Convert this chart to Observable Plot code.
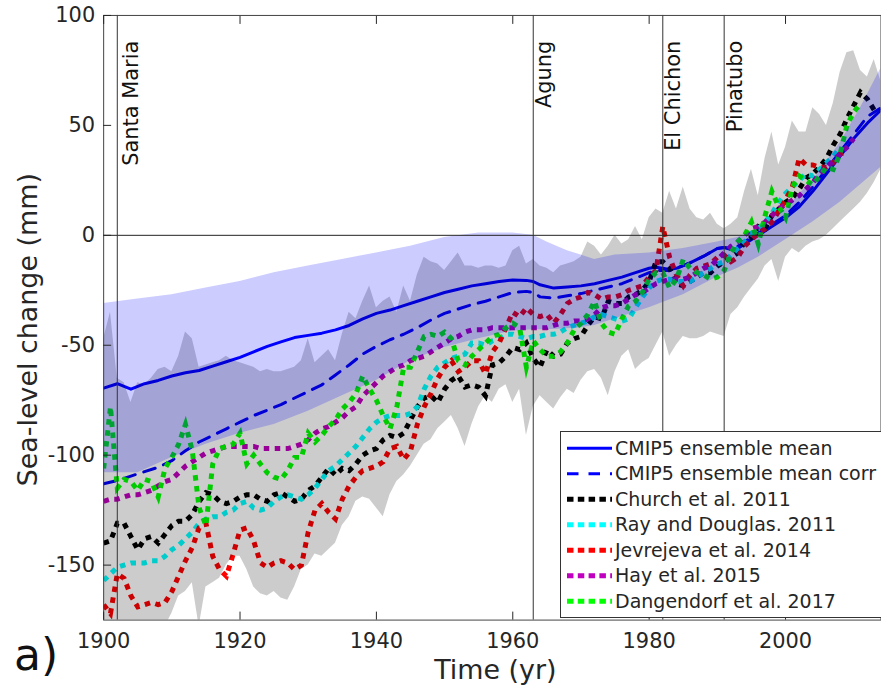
<!DOCTYPE html>
<html><head><meta charset="utf-8">
<script src="https://cdn.jsdelivr.net/npm/d3@7"></script>
<script src="https://cdn.jsdelivr.net/npm/@observablehq/plot@0.6"></script>
<style>
html,body{margin:0;padding:0;overflow:hidden;background:#fff;width:881px;height:688px}
#wrap{position:relative;width:881px;height:688px;overflow:hidden}
#chart{position:absolute;left:0;top:0}
#legend{position:absolute;left:560px;top:431px;overflow:visible}
#panel{position:absolute;left:14px;top:633px;font-family:"DejaVu Sans";font-size:44px;line-height:44px;color:#111}
</style></head>
<body><div id="wrap"><div id="chart"></div><svg id="legend" width="340" height="188"></svg><div id="panel">a)</div></div>
<script>
// ---------------- data ----------------
const xTicks = [1900, 1920, 1940, 1960, 1980, 2000];
const yTicks = [-150, -100, -50, 0, 50, 100];

const volcanoNames = ["Santa Maria", "Agung", "El Chichon", "Pinatubo"];
const volcanoYears = [1902, 1963, 1982, 1991];

// CMIP5 ensemble mean and corrected mean
const modelYears = [1900,1902,1904,1906,1908,1910,1912,1914,1916,1918,1920,1922,1924,1926,1928,1930,1932,1934,1936,1938,1940,1942,1944,1946,1948,1950,1952,1954,1956,1958,1960,1962,1963,1964,1966,1968,1970,1972,1974,1976,1978,1980,1981,1982,1983,1984,1986,1988,1990,1991,1992,1993,1994,1996,1998,2000,2002,2004,2006,2008,2010,2012,2014];
const cmipMean = [-69.5,-67.5,-70,-67.5,-66,-64,-62.5,-61.5,-59.5,-57.5,-55.5,-53,-50.5,-48.5,-46.5,-45.5,-44.5,-43,-41,-38,-35.5,-34,-32,-30,-28,-26,-24.5,-23,-22,-21,-20.3,-20.5,-21,-22.5,-24,-23.5,-23,-22,-20.5,-19,-17,-15,-14.5,-15,-15.5,-15,-12.5,-9.5,-6,-5.5,-6.5,-6,-4,0,4,8,13,20,28,36,44,51,57];
const cmipCorr = [-113,-111.5,-109.5,-107.5,-105.5,-102.5,-98,-94,-91,-88,-85,-82,-79.5,-77,-74,-71,-68,-63.5,-59,-54,-50.5,-47.5,-45,-42,-38.5,-35.5,-33.5,-31.5,-30,-28,-26,-25.5,-26,-28,-28.5,-27.5,-26.5,-25,-23.5,-22,-19.5,-17,-16,-16,-16,-15,-12.5,-9.5,-6,-5.5,-6,-5,-3,1,5,9,15,22,30,38,46,54,58];

// CMIP5 spread band
const bandYears = [1900,1905,1910,1915,1920,1925,1930,1935,1940,1945,1950,1955,1960,1963,1965,1968,1970,1972,1975,1980,1985,1990,1993,1996,2000,2004,2008,2011,2014];
const bandHigh = [-31,-29,-27,-24,-21,-17,-14,-11,-8,-5,-1,1,1,0,-3,-7,-9,-11,-9,-8,-6,-3,-1,3,12,25,42,58,76];
const bandLow  = [-108,-108,-101,-95,-90,-86,-80,-73,-66,-57,-51,-47,-43.5,-43,-43,-42.5,-42,-41,-38,-33,-27,-19,-15,-10,-2,6,15,23,31];

// Observational spread (annual, from 1900)
const obsStart = 1900;
const obsHigh = [-47,-35,-65,-67,-76,-67,-68,-65,-61,-60,
 -62,-55,-44,-47,-60,-59,-58,-57,-55,-57,
 -58,-59,-60,-62,-61,-62,-62,-61,-60,-57,
 -47,-58,-55,-52,-57,-45,-35,-38,-30,-23,
 -33,-30,-28,-35,-23,-30,-18,-10,-12,-13,
 -16,-12,-8,-14,-14,-15,-14,-14,-15,-14,
 -7,-5,-13,-11,-14,-15,-17,-14,-13,-12,
 -10,-3,-5,-9,-5,0,-4,-2,4,-2,
 8,12,10,20,12,22,12,8,7,10,
 5,3,5,8,20,30,18,35,47,32,
 40,52,47,47,58,55,50,60,74,83,
 84,75,72,80,70];
const obsLow = [-180,-180,-180,-180,-180,-180,-180,-180,-180,-178,
 -172,-164,-162,-158,-178,-160,-158,-156,-150,-146,
 -146,-152,-160,-163,-164,-162,-165,-166,-160,-152,
 -150,-145,-146,-143,-140,-132,-128,-121,-119,-120,
 -124,-128,-118,-112,-109,-105,-100,-95,-93,-88,
 -85,-82,-88,-96,-86,-78,-73,-76,-70,-68,
 -76,-70,-91,-78,-73,-76,-79,-74,-70,-72,
 -66,-62,-61,-65,-73,-62,-55,-52,-61,-58,
 -56,-50,-44,-55,-50,-46,-47,-47,-46,-44,
 -45,-46,-36,-33,-28,-24,-20,-14,-11,-21,
 -10,-6,-8,-5,-3,-2,0,3,6,9,
 12,15,19,24,30];

// Reconstructions (annual, from 1900)
const church2011 = [-140,-139,-131,-131,-137,-143,-138,-137,-140,-136,
 -132,-130,-130,-127,-121,-117,-118,-121,-122,-121,
 -119,-118,-118,-120,-121,-118,-117,-119,-121,-120,
 -116,-114,-110,-106,-109,-106,-107,-104,-100,-98,
 -97,-93,-91,-92,-90,-84,-78,-74,-73,-76,
 -70,-66,-64,-69,-68,-69,-73,-59,-58,-55,
 -51,-52,-49,-56,-60,-52,-55,-54,-49,-47,
 -46,-41,-37,-38,-30,-31,-31,-28,-27,-25,
 -21,-12,-12,-15,-22,-23,-21,-19,-17,-17,
 -14,-12,-10,-8,-3,-1,4,3,9,12,
 15,17,21,26,28,31,35,41,46,53,
 59,65,62,57];
const ray2011 = [-157,-154,-151,-150,-149,-149,-149,-148,-148,-146,
 -143,-141,-138,-135,-131,-129,-128,-128,-126,-125,
 -122,-121,-124,-125,-124,-121,-119,-118,-119,-120,
 -118,-115,-111,-107,-105,-102,-99,-96,-92,-88,
 -85,-83,-82,-82,-82,-81,-78,-70,-64,-60,
 -58,-56,-55,-54,-49,-49,-50,-48,-47,-45,
 -45,-46,-47,-46,-46,-45,-45,-44,-42,-41,
 -40,-39,-37,-36,-37,-38,-39,-38,-33,-28,
 -24,-21,-20,-20,-21,-21,-21,-19,-17,-15,
 -13,-12,-9,-6,-3,1,3,6,10,15,
 19,22,25,28,27,30,33,36,40];
const jevrejeva2014 = [-168,-172,-154,-156,-164,-169,-168,-167,-168,-167,
 -162,-155,-148,-142,-133,-131,-146,-152,-155,-145,
 -134,-133,-139,-149,-151,-149,-148,-149,-152,-150,
 -135,-125,-122,-126,-129,-120,-114,-110,-107,-106,
 -105,-103,-97,-96,-102,-98,-86,-78,-72,-65,
 -60,-57,-62,-60,-57,-57,-63,-53,-49,-42,
 -35,-37,-33,-36,-37,-36,-40,-36,-31,-29,
 -28,-26,-27,-29,-28,-28,-27,-25,-24,-23,
 -19,-16,4,-10,-18,-23,-18,-15,-14,-13,
 -10,-9,-12,-10,-5,-2,1,3,6,11,
 16,22,35,32,32,31,31,33,37,38];
const hay2015 = [-121,-120,-120,-119,-118,-118,-117,-116,-114,-112,
 -111,-108,-105,-103,-101,-99,-98,-97,-96,-96,
 -96,-96,-96,-97,-97,-97,-97,-97,-96,-95,
 -93,-90,-88,-87,-85,-83,-80,-78,-73,-70,
 -67,-64,-62,-60,-59,-57,-56,-55,-53,-51,
 -49,-47,-46,-44,-43,-43,-43,-42,-42,-42,
 -42,-42,-42,-42,-42,-42,-41,-40,-40,-39,
 -39,-38,-36,-33,-32,-32,-31,-29,-27,-26,
 -24,-22,-21,-20,-20,-20,-19,-17,-15,-14,
 -11,-8,-5,-3,0,3,4,6,9,12,
 14,16,18,21,24,28,31,34,37,40,44];
const dangendorf2017 = [-106,-78,-115,-111,-112,-116,-111,-112,-119,-106,
 -101,-95,-86,-98,-124,-132,-104,-97,-96,-95,
 -90,-104,-100,-104,-108,-110,-111,-107,-101,-101,
 -90,-94,-91,-87,-84,-79,-76,-72,-64,-70,
 -75,-82,-88,-78,-60,-60,-53,-46,-45,-46,
 -44,-47,-57,-59,-55,-52,-49,-46,-45,-42,
 -40,-42,-60,-48,-52,-55,-55,-53,-49,-43,
 -40,-36,-30,-40,-44,-45,-38,-32,-30,-26,
 -20,-17,-17,-24,-20,-11,-15,-17,-18,-20,
 -19,-16,-8,-3,0,6,-4,9,20,13,
 8,22,27,25,23,27,31,30,37,50,
 56,60];

const seriesNames = ["CMIP5 ensemble mean","CMIP5 ensemble mean corr","Church et al. 2011","Ray and Douglas. 2011","Jevrejeva et al. 2014","Hay et al. 2015","Dangendorf et al. 2017"];
const seriesColors = ["#0000ff","#0000ff","#000000","#00ffff","#ff0000","#bf00bf","#00ff00"];
const obsSeries = [church2011, ray2011, jevrejeva2014, hay2015, dangendorf2017];

// ---------------- tables ----------------
const model = modelYears.map((year, i) => ({year, mean: cmipMean[i], corr: cmipCorr[i]}));
const band = bandYears.map((year, i) => ({year, lo: bandLow[i], hi: bandHigh[i]}));
const spread = obsHigh.map((hi, i) => ({year: obsStart + i, hi, lo: obsLow[i]}));
const obsTables = obsSeries.map(arr => arr.map((value, i) => ({year: obsStart + i, value})));
const volcanoes = volcanoNames.map((name, i) => ({name, year: volcanoYears[i]}));

const dotted = {strokeWidth: 5, strokeDasharray: "5.5,5.5", strokeLinecap: "butt", strokeLinejoin: "miter", strokeMiterlimit: 8, clip: true};

const chart = Plot.plot({
  width: 884, height: 688,
  marginLeft: 103.5, marginRight: 0.5, marginTop: 15, marginBottom: 66.3,
  x: {domain: [1900, 2014]},
  y: {domain: [-175, 100]},
  style: {fontFamily: "DejaVu Sans", color: "#262626", background: "transparent"},
  marks: [
    Plot.line(model, {x: "year", y: "mean", stroke: seriesColors[0], strokeWidth: 3, clip: true}),
    Plot.line(model, {x: "year", y: "corr", stroke: seriesColors[1], strokeWidth: 3, strokeDasharray: "12,9", clip: true}),
    ...obsTables.map((t, k) => Plot.line(t, {x: "year", y: "value", stroke: seriesColors[k + 2], ...dotted})),
    Plot.areaY(spread, {x: "year", y1: "lo", y2: "hi", fill: "#000", fillOpacity: 0.2, clip: true}),
    Plot.areaY(band, {x: "year", y1: "lo", y2: "hi", fill: "#0000ff", fillOpacity: 0.2, clip: true}),
    Plot.ruleY([0], {stroke: "#222", strokeWidth: 1}),
    Plot.ruleX(volcanoes, {x: "year", stroke: "#333", strokeWidth: 1}),
    Plot.text(volcanoes.slice(0, 1), {x: "year", y: () => 88.5, text: "name", rotate: -90, textAnchor: "end", lineAnchor: "top", dx: 6, fontSize: 21, fill: "#111"}),
    Plot.text(volcanoes.slice(1), {x: "year", y: () => 88.5, text: "name", rotate: -90, textAnchor: "end", lineAnchor: "top", dx: 2.5, fontSize: 21, fill: "#111"}),
    Plot.frame({stroke: "#444"}),
    Plot.axisX({anchor: "bottom", ticks: xTicks, tickSize: -8, tickPadding: 21, fontSize: 21, label: null, tickFormat: d => String(d)}),
    Plot.axisX({anchor: "top", ticks: xTicks, tickSize: -8, tickFormat: () => "", label: null}),
    Plot.axisY({anchor: "left", ticks: yTicks, tickSize: -8, tickPadding: 16.5, fontSize: 21, label: null, tickFormat: d => String(d)}),
    Plot.text(["Time (yr)"], {text: d => d, frameAnchor: "bottom", dx: 3, dy: 59.5, lineAnchor: "bottom", fontSize: 27, fill: "#262626"}),
    Plot.text(["Sea-level change (mm)"], {text: d => d, frameAnchor: "left", rotate: -90, textAnchor: "middle", dx: -66.5, dy: 12, lineAnchor: "bottom", fontSize: 27, fill: "#262626"})
  ]
});
document.getElementById("chart").appendChild(chart);

// ---------------- legend ----------------
const leg = d3.select("#legend");
leg.append("rect").attr("x", 0.5).attr("y", 0.5).attr("width", 338).attr("height", 186)
  .attr("fill", "#fff").attr("stroke", "#333").attr("stroke-width", 1);
seriesNames.forEach((name, i) => {
  const y = 17.3 + 25.5 * i;
  const ln = leg.append("line").attr("x1", 7).attr("x2", 52).attr("y1", y).attr("y2", y)
    .attr("stroke", seriesColors[i]);
  if (i === 0) ln.attr("stroke-width", 3);
  else if (i === 1) ln.attr("stroke-width", 3).attr("stroke-dasharray", "11.5,10");
  else ln.attr("stroke-width", 5).attr("stroke-dasharray", "6.5,4.3");
  leg.append("text").attr("x", 55).attr("y", y).attr("dy", "0.35em")
    .attr("font-family", "DejaVu Sans").attr("font-size", 19).attr("fill", "#262626").text(name);
});
</script>
</body></html>
